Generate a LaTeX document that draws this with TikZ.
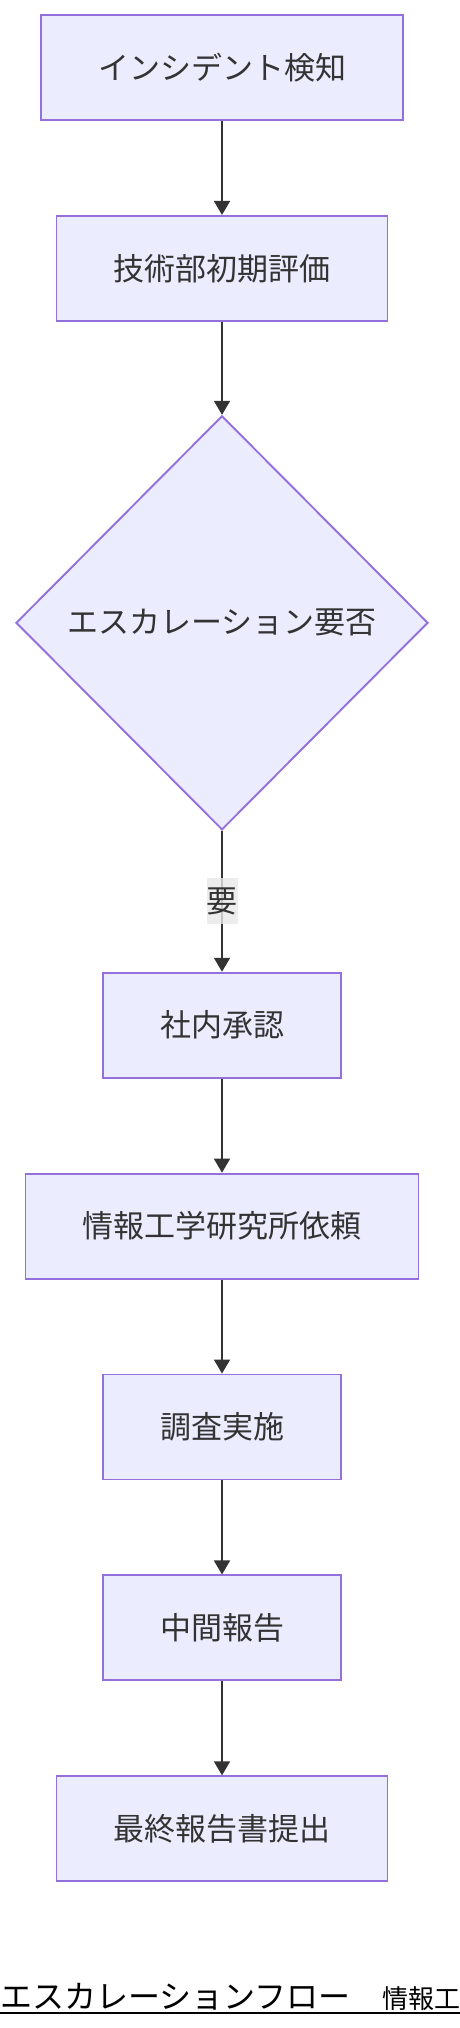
\documentclass[tikz,border=0pt]{standalone}
\usepackage{fontspec}
\newfontfamily\jpfont{Noto Sans CJK JP}
\usepackage{tikz}
\usetikzlibrary{arrows.meta}
\usetikzlibrary{positioning}
\usetikzlibrary{shapes}
\definecolor{nodefill}{HTML}{ECECFF}
\definecolor{nodeline}{HTML}{9370DB}
\definecolor{edgeline}{HTML}{333333}
\definecolor{labelfill}{HTML}{E8E8E8}

\begin{document}
\begin{tikzpicture}[x=1pt,y=1pt,
                font=\jpfont\fontsize{31}{36}\selectfont, text=edgeline,
                block/.style={rectangle, fill=nodefill, draw=nodeline, line width=1.9pt, minimum height=105pt, inner xsep=57pt},
                decision/.style={diamond, aspect=1, fill=nodefill, draw=nodeline, line width=1.9pt, minimum width=412pt, minimum height=414pt, inner sep=0pt},
                edgelabel/.style={fill=labelfill, fill opacity=0.8, text opacity=1, minimum width=30pt, minimum height=46pt, inner sep=0pt},
                heading/.style={font=\jpfont\fontsize{32}{32}\selectfont, text=black, inner sep=0pt, anchor=base west},
                arrow/.style={draw=edgeline, line width=1.8pt, -{Triangle[length=14pt,width=16pt]}},
                node distance=94pt
            ]
            \useasboundingbox (0,0) rectangle (460,-2028);
            \node[block](detect) at (222,-67.5){インシデント検知};
            \node[block, below=of detect](assess){技術部初期評価};
            \node[decision, below=93pt of assess](escalate){エスカレーション要否};
            \node[block, below=141pt of escalate](approve){社内承認};
            \node[block, below=of approve](request){情報工学研究所依頼};
            \node[block, below=of request](survey){調査実施};
            \node[block, below=of survey](interim){中間報告};
            \node[block, below=of interim](final){最終報告書提出};
            \path[arrow] (detect) -- (assess);
            \path[arrow] (assess) -- (escalate);
            \path[arrow] (escalate) -- node[edgelabel]{要} (approve);
            \path[arrow] (approve) -- (request);
            \path[arrow] (request) -- (survey);
            \path[arrow] (survey) -- (interim);
            \path[arrow] (interim) -- (final);
            \node[heading](title) at (0,-2008){エスカレーションフロー　{\fontsize{26}{26}\selectfont 情報工}};
            \draw[line width=2pt] ([yshift=-5pt]title.base west) -- ([yshift=-5pt]title.base east);
        \end{tikzpicture}
\end{document}
